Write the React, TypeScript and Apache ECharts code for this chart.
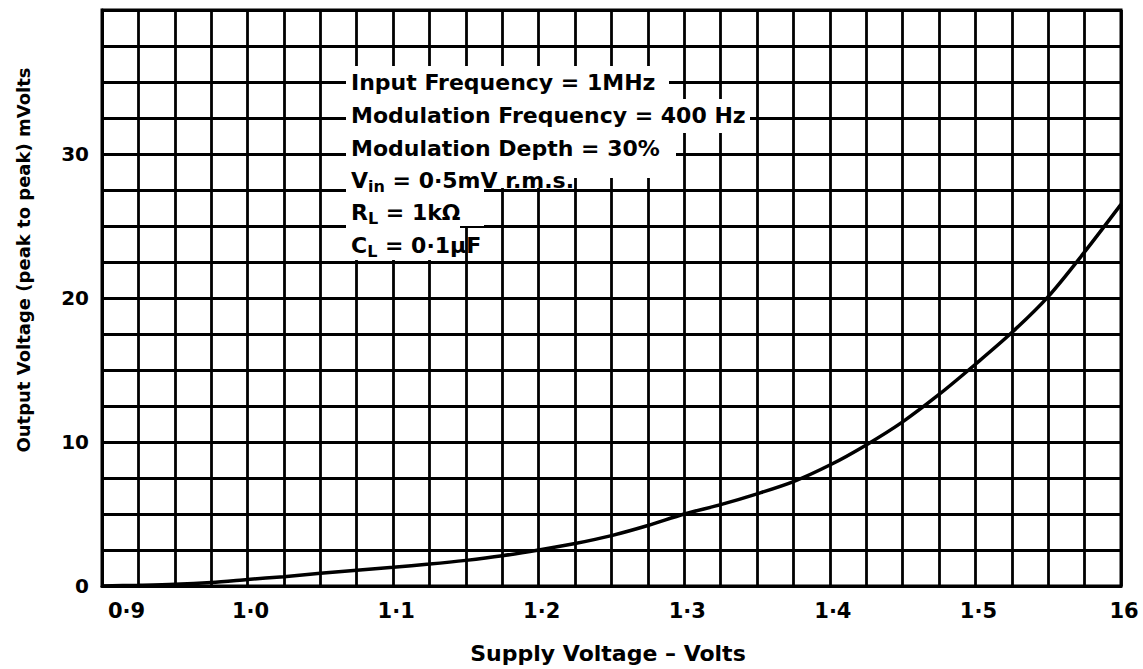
import React, { useEffect, useRef } from "react";
import * as echarts from "echarts";

// Supply voltage (V)
const supplyVolts = [
  0.9, 0.925, 0.95, 0.975, 1.0, 1.025, 1.05, 1.075, 1.1, 1.125, 1.15, 1.175,
  1.2, 1.225, 1.25, 1.275, 1.3, 1.325, 1.35, 1.375, 1.4, 1.425, 1.45, 1.475,
  1.5, 1.525, 1.55, 1.575, 1.6,
];
// Output voltage, peak to peak (mV)
const outputMv = [
  0, 0.05, 0.12, 0.25, 0.45, 0.65, 0.88, 1.1, 1.3, 1.52, 1.78, 2.1,
  2.5, 2.95, 3.5, 4.2, 5.0, 5.65, 6.4, 7.25, 8.4, 9.8, 11.4, 13.3,
  15.4, 17.6, 20.1, 23.2, 26.5,
];

const xTickValues = [0.9, 1.0, 1.1, 1.2, 1.3, 1.4, 1.5, 1.6];
const xTickLabels = ["0·9", "1·0", "1·1", "1·2", "1·3", "1·4", "1·5", "16"];
const yTickValues = [0, 10, 20, 30];
const yTickLabels = ["0", "10", "20", "30"];

const xTitle = "Supply Voltage – Volts";
const yTitle = "Output Voltage (peak to peak) mVolts";

const FONT = "DejaVu Sans";

export default function App() {
  const ref = useRef<HTMLDivElement>(null);
  useEffect(() => {
    if (!ref.current) return;
    const chart = echarts.init(ref.current, null, { renderer: "svg" });
    const near = (a: number, b: number) => Math.abs(a - b) < 1e-6;
    const boxStyle = { fontFamily: FONT, fontSize: 22, fontWeight: "bold", fill: "#000" };
    const rich = {
      sub: {
        fontFamily: FONT,
        fontSize: 16,
        fontWeight: "bold",
        verticalAlign: "bottom",
        padding: [12, 0, 0, 0],
      },
      n: { fontFamily: FONT, fontSize: 22, fontWeight: "bold" },
    };
    const lines = [
      "{n|Input Frequency = 1MHz}",
      "{n|Modulation Frequency = 400 Hz}",
      "{n|Modulation Depth = 30%}",
      "{n|V}{sub|in}{n| = 0·5mV r.m.s.}",
      "{n|R}{sub|L}{n| = 1kΩ}",
      "{n|C}{sub|L}{n| = 0·1μF}",
    ];
    const lineY = [82, 115, 148, 180, 212, 245];
    const whiteRects = [
      [346, 66, 323, 34],
      [346, 99, 404, 34],
      [346, 132, 330, 28],
      [346, 158, 218, 30],
      [346, 160, 320, 18],
      [346, 186, 138, 40],
      [346, 226, 114, 34],
    ];
    chart.setOption({
      animation: false,
      backgroundColor: "#fff",
      grid: { left: 102, right: 22, top: 10, bottom: 83, show: false },
      xAxis: {
        type: "value",
        min: 0.9,
        max: 1.6,
        interval: 0.025,
        axisLine: { show: true, lineStyle: { color: "#000", width: 3 } },
        axisTick: { show: false },
        splitLine: { show: true, lineStyle: { color: "#000", width: 2.8 } },
        axisLabel: {
          margin: 14,
          fontFamily: FONT,
          fontSize: 21,
          fontWeight: "bold",
          color: "#000",
          padding: [0, 0, 0, 6],
          showMaxLabel: true,
          showMinLabel: true,
          alignMinLabel: "left",
          formatter: (v: number) => {
            const i = xTickValues.findIndex((t) => near(t, v));
            return i >= 0 ? xTickLabels[i] : "";
          },
        },
      },
      yAxis: {
        type: "value",
        min: 0,
        max: 40,
        interval: 2.5,
        axisLine: { show: true, lineStyle: { color: "#000", width: 3 } },
        axisTick: { show: false },
        splitLine: { show: true, lineStyle: { color: "#000", width: 2.8 } },
        axisLabel: {
          margin: 13,
          fontFamily: FONT,
          fontSize: 20,
          fontWeight: "bold",
          color: "#000",
          formatter: (v: number) => {
            const i = yTickValues.findIndex((t) => near(t, v));
            return i >= 0 ? yTickLabels[i] : "";
          },
        },
      },
      graphic: [
        {
          type: "rect",
          shape: { x: 102, y: 10, width: 1019, height: 576 },
          style: { fill: "none", stroke: "#000", lineWidth: 3 },
          z: 5,
          silent: true,
        },
        ...whiteRects.map((r) => ({
          type: "rect",
          shape: { x: r[0], y: r[1], width: r[2], height: r[3] },
          style: { fill: "#fff" },
          z: 10,
          silent: true,
        })),
        ...lines.map((t, i) => ({
          type: "text",
          x: 351,
          y: lineY[i],
          z: 11,
          style: { ...boxStyle, text: t, rich, verticalAlign: "middle", align: "left" },
        })),
        {
          type: "text",
          x: 608,
          y: 653,
          z: 11,
          style: {
            fontFamily: FONT,
            fontSize: 22,
            fontWeight: "bold",
            fill: "#000",
            text: xTitle,
            align: "center",
            verticalAlign: "middle",
          },
        },
        {
          type: "text",
          x: 23,
          y: 260,
          rotation: Math.PI / 2,
          z: 11,
          style: {
            fontFamily: FONT,
            fontSize: 18,
            fontWeight: "bold",
            fill: "#000",
            text: yTitle,
            align: "center",
            verticalAlign: "middle",
          },
        },
      ],
      series: [
        {
          type: "line",
          data: supplyVolts.map((x, i) => [x, outputMv[i]]),
          smooth: 0.3,
          showSymbol: false,
          lineStyle: { color: "#000", width: 3.5 },
          z: 3,
        },
      ],
    });
    return () => chart.dispose();
  }, []);
  return (
    <div
      ref={ref}
      style={{ position: "fixed", left: 0, top: 0, width: 1143, height: 669, background: "#fff" }}
    />
  );
}
